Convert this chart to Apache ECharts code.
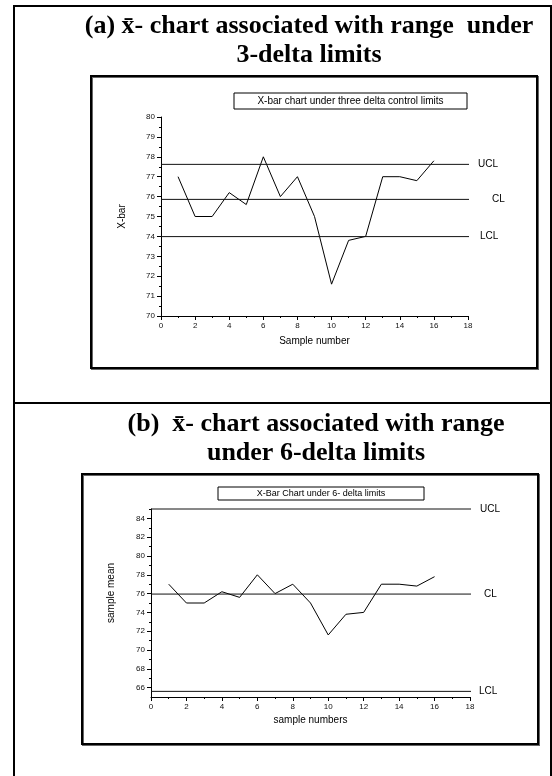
<!DOCTYPE html>
<html>
<head>
<meta charset="utf-8">
<script src="https://cdn.jsdelivr.net/npm/echarts@6/dist/echarts.min.js"></script>
<style>
  html, body { margin: 0; padding: 0; background: #fff; }
  #chart { width: 552px; height: 776px; }
</style>
</head>
<body>
<div id="chart"></div>
<script>
// sample means (same values in both panels)
let sampleNo = [1, 2, 3, 4, 5, 6, 7, 8, 9, 10, 11, 12, 13, 14, 15, 16];
let xbar = [77, 75, 75, 76.2, 75.6, 78, 76, 77, 75, 71.6, 73.8, 74.0, 77, 77, 76.8, 77.8];

// control limits
let limitNames = ['UCL', 'CL', 'LCL'];
let limits3 = [77.62, 75.86, 73.99];
let limits6 = [85.0, 75.95, 65.6];
// how far along the sample axis each limit line is drawn
let limitEnd3 = [18.64, 18.11, 18.23];
let limitEnd6 = [18.68, 18.4, 18.34];

let evenTicks6 = [66, 68, 70, 72, 74, 76, 78, 80, 82, 84];
let oddTicks6 = [67, 69, 71, 73, 75, 77, 79, 81, 83, 85];

let labelGap3 = [9, 23, 11];
let labelGap6 = [9, 13, 8];

let chart = echarts.init(document.getElementById('chart'));

let tickFont = { fontFamily: 'Arial, Liberation Sans', fontSize: 8, color: '#111' };
let nameFont = { fontFamily: 'Arial, Liberation Sans', fontSize: 10, color: '#000' };
let black = { color: '#000', width: 1 };
let titleFont = 'bold 26px "Liberation Serif", "Times New Roman", serif';
let boxStyle = { fill: 'none', stroke: '#000', lineWidth: 2, shadowColor: 'rgba(0,0,0,0.6)', shadowOffsetX: 1, shadowOffsetY: 1 };

function xAxisFor(gridIndex, name, gap) {
  return {
    type: 'value', gridIndex: gridIndex, min: 0, max: 18, interval: 2,
    name: name, nameLocation: 'middle', nameGap: gap, nameTextStyle: nameFont,
    axisLine: { show: true, lineStyle: black },
    axisTick: { show: true, length: 4, lineStyle: black },
    minorTick: { show: true, splitNumber: 2, length: 2, lineStyle: black },
    axisLabel: Object.assign({ margin: 6 }, tickFont),
    splitLine: { show: false }
  };
}

function limitSeries(values, ends, gaps, xi, yi) {
  return values.map(function (v, i) {
    return {
      name: limitNames[i],
      type: 'line',
      xAxisIndex: xi, yAxisIndex: yi,
      data: [[0, v], [ends[i], v]],
      clip: false,
      symbol: 'none',
      silent: true,
      lineStyle: { color: '#111', width: 1 },
      endLabel: {
        show: true, formatter: limitNames[i], distance: gaps[i],
        fontFamily: 'Arial, Liberation Sans', fontSize: 10, color: '#000'
      }
    };
  });
}

let points = sampleNo.map(function (s, i) { return [s, xbar[i]]; });

let option = {
  animation: false,
  backgroundColor: '#fff',
  grid: [
    { left: 161, top: 117, right: 84, bottom: 460 },
    { left: 151, top: 509, right: 82, bottom: 79 }
  ],
  xAxis: [
    xAxisFor(0, 'Sample number', 20),
    xAxisFor(1, 'sample numbers', 18)
  ],
  yAxis: [
    {
      type: 'value', gridIndex: 0, min: 70, max: 80, interval: 1,
      name: 'X-bar', nameLocation: 'middle', nameGap: 34, nameRotate: 90, nameTextStyle: nameFont,
      axisLine: { show: true, lineStyle: black },
      axisTick: { show: true, length: 4, lineStyle: black },
      minorTick: { show: true, splitNumber: 2, length: 2, lineStyle: black },
      axisLabel: Object.assign({ margin: 6 }, tickFont),
      splitLine: { show: false }
    },
    {
      type: 'value', gridIndex: 1, min: 65, max: 85, position: 'left',
      name: 'sample mean', nameLocation: 'middle', nameGap: 35, nameRotate: 90,
      nameTextStyle: Object.assign({ padding: [0, 0, 0, 20] }, nameFont),
      axisLine: { show: true, lineStyle: black },
      axisTick: { show: true, length: 4, lineStyle: black, customValues: evenTicks6 },
      axisLabel: Object.assign({ margin: 6, customValues: evenTicks6 }, tickFont),
      splitLine: { show: false }
    },
    {
      type: 'value', gridIndex: 1, min: 65, max: 85, position: 'left', offset: 0,
      axisLine: { show: false },
      axisTick: { show: true, length: 2, lineStyle: black, customValues: oddTicks6 },
      axisLabel: { show: false },
      splitLine: { show: false }
    }
  ],
  graphic: [
    // outer frame and divider
    { type: 'rect', shape: { x: 14, y: 6, width: 537, height: 800 }, style: { fill: 'none', stroke: '#000', lineWidth: 2 } },
    { type: 'line', shape: { x1: 14, y1: 403, x2: 551, y2: 403 }, style: { stroke: '#000', lineWidth: 2 } },
    // panel titles
    { type: 'text', x: 309, y: 26, style: { text: '(a) x\u0304- chart associated with range  under', font: titleFont, fill: '#000', align: 'center', verticalAlign: 'middle' } },
    { type: 'text', x: 309, y: 55, style: { text: '3-delta limits', font: titleFont, fill: '#000', align: 'center', verticalAlign: 'middle' } },
    { type: 'text', x: 316, y: 424, style: { text: '(b)  x\u0304- chart associated with range', font: titleFont, fill: '#000', align: 'center', verticalAlign: 'middle' } },
    { type: 'text', x: 316, y: 453, style: { text: 'under 6-delta limits', font: titleFont, fill: '#000', align: 'center', verticalAlign: 'middle' } },
    // chart boxes
    { type: 'rect', shape: { x: 91, y: 76, width: 446, height: 292 }, style: boxStyle },
    { type: 'rect', shape: { x: 82, y: 474, width: 456, height: 270 }, style: boxStyle },
    // boxed chart captions
    { type: 'rect', shape: { x: 234, y: 93, width: 233, height: 16 }, style: { fill: '#fff', stroke: '#000', lineWidth: 1 } },
    { type: 'text', x: 350.5, y: 101, style: { text: 'X-bar chart under three delta control limits', font: '10px Arial, "Liberation Sans"', fill: '#000', align: 'center', verticalAlign: 'middle' } },
    { type: 'rect', shape: { x: 218, y: 487, width: 206, height: 13 }, style: { fill: '#fff', stroke: '#000', lineWidth: 1 } },
    { type: 'text', x: 321, y: 493.5, style: { text: 'X-Bar Chart under 6- delta limits', font: '9px Arial, "Liberation Sans"', fill: '#000', align: 'center', verticalAlign: 'middle' } }
  ],
  series: [
    {
      name: 'X-bar', type: 'line', xAxisIndex: 0, yAxisIndex: 0,
      data: points, symbol: 'none', lineStyle: { color: '#000', width: 1 }
    },
    {
      name: 'sample mean', type: 'line', xAxisIndex: 1, yAxisIndex: 1,
      data: points, symbol: 'none', lineStyle: { color: '#000', width: 1 }
    }
  ].concat(limitSeries(limits3, limitEnd3, labelGap3, 0, 0))
   .concat(limitSeries(limits6, limitEnd6, labelGap6, 1, 1))
};

chart.setOption(option);
</script>
</body>
</html>
